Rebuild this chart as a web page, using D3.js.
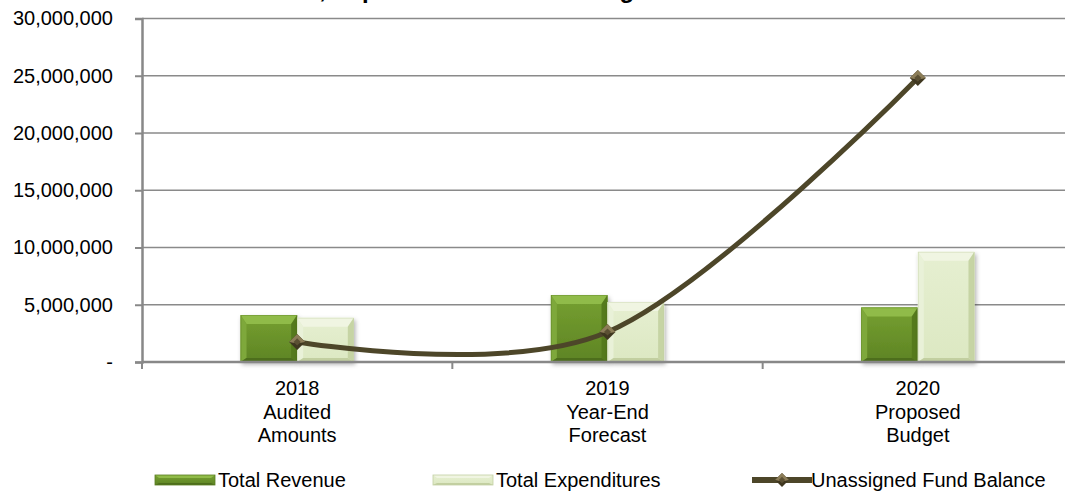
<!DOCTYPE html>
<html>
<head>
<meta charset="utf-8">
<script src="https://cdn.jsdelivr.net/npm/d3@7"></script>
<style>
  body { margin: 0; background: #fff; }
  svg { display: block; font-family: Arial, "Liberation Sans", sans-serif; }
</style>
</head>
<body>
<svg id="chart" width="1065" height="498"></svg>
<script>
// ---- data ----
const years = ["2018", "2019", "2020"];
const categoryLines = [["2018", "Audited", "Amounts"], ["2019", "Year-End", "Forecast"], ["2020", "Proposed", "Budget"]];
const totalRevenue = [4100000, 5850000, 4770000];
const totalExpenditures = [3870000, 5240000, 9630000];
const unassignedFundBalance = [1750000, 2620000, 24800000];
const yTickValues = [0, 5000000, 10000000, 15000000, 20000000, 25000000, 30000000];
const seriesNames = ["Total Revenue", "Total Expenditures", "Unassigned Fund Balance"];
const chartTitle = "Revenue, Expenditures and Unassigned Fund Balance";

// ---- layout ----
const svg = d3.select("#chart");
const plot = { left: 142, right: 1073, top: 18.5, bottom: 362 };
const fontSize = 20;

const x0 = d3.scaleBand().domain(years).range([plot.left, plot.right]).padding(0);
const groupW = x0.bandwidth() * 0.365;
const x1 = d3.scaleBand().domain(["rev", "exp"]).range([0, groupW]).padding(0);
const y = d3.scaleLinear().domain([0, 30000000]).range([plot.bottom, plot.top]);

const defs = svg.append("defs");
function vGrad(id, stops) {
  const g = defs.append("linearGradient").attr("id", id).attr("x1", 0).attr("y1", 0).attr("x2", 0).attr("y2", 1);
  stops.forEach(([o, c]) => g.append("stop").attr("offset", o).attr("stop-color", c));
}
vGrad("revBody", [[0, "#76a031"], [1, "#5e8424"]]);
vGrad("expBody", [[0, "#e6efd1"], [1, "#dce8c2"]]);

const shadow = defs.append("filter").attr("id", "barShadow").attr("x", "-20%").attr("y", "-20%").attr("width", "140%").attr("height", "140%");
shadow.append("feDropShadow").attr("dx", 1.5).attr("dy", 2.5).attr("stdDeviation", 2)
  .attr("flood-color", "#000").attr("flood-opacity", 0.3);

// title (sits mostly above the visible area)
svg.append("text").attr("x", 530).attr("y", -2).attr("text-anchor", "middle")
  .attr("font-size", 24).attr("font-weight", "bold").attr("fill", "#000").text(chartTitle);

// gridlines
svg.append("g").selectAll("line").data(yTickValues.filter(v => v > 0)).join("line")
  .attr("x1", plot.left).attr("x2", plot.right)
  .attr("y1", d => y(d)).attr("y2", d => y(d))
  .attr("stroke", "#8a8a8a").attr("stroke-width", 1.5);

// y axis
const yAxis = svg.append("g").attr("transform", `translate(${plot.left},0)`)
  .call(d3.axisLeft(y).tickValues(yTickValues)
    .tickFormat(v => v === 0 ? "-" : d3.format(",")(v))
    .tickSize(7).tickPadding(22));
yAxis.select(".domain").attr("stroke", "#888").attr("stroke-width", 2.5);
yAxis.selectAll(".tick line").attr("stroke", "#888").attr("stroke-width", 2);
yAxis.selectAll(".tick text").attr("font-size", fontSize).attr("fill", "#000")
  .attr("font-family", "Arial, 'Liberation Sans', sans-serif");

// beveled bar
const seriesStyle = {
  rev: { body: "url(#revBody)", top: "#90bb48", left: "#7ea83a", right: "#557a1f", bottom: "#4d6e1b", edge: "#5a7d22" },
  exp: { body: "url(#expBody)", top: "#f0f5e2", left: "#e9f1d8", right: "#c6d4a4", bottom: "#c2cfa0", edge: "#c2cfa4" }
};
function drawBar(g, key, x, yTop, w) {
  const h = plot.bottom - yTop;
  const s = seriesStyle[key];
  const bt = Math.min(9, h / 3), bs = Math.min(6, w / 4), bb = Math.min(4, h / 4);
  const x2 = x + w, y2 = plot.bottom;
  const bar = g.append("g").attr("filter", "url(#barShadow)");
  bar.append("rect").attr("x", x).attr("y", yTop).attr("width", w).attr("height", h).attr("fill", s.body);
  const poly = (pts, fill) => bar.append("polygon").attr("points", pts.map(p => p.join(",")).join(" ")).attr("fill", fill);
  poly([[x, yTop], [x2, yTop], [x2 - bs, yTop + bt], [x + bs, yTop + bt]], s.top);
  poly([[x, yTop], [x + bs, yTop + bt], [x + bs, y2 - bb], [x, y2]], s.left);
  poly([[x2, yTop], [x2, y2], [x2 - bs, y2 - bb], [x2 - bs, yTop + bt]], s.right);
  poly([[x, y2], [x + bs, y2 - bb], [x2 - bs, y2 - bb], [x2, y2]], s.bottom);
  bar.append("rect").attr("x", x + 0.5).attr("y", yTop + 0.5).attr("width", w - 1).attr("height", h - 1)
    .attr("fill", "none").attr("stroke", s.edge).attr("stroke-width", 0.6).attr("opacity", 0.6);
}

const barsG = svg.append("g");
years.forEach((yr, i) => {
  const gx = x0(yr) + (x0.bandwidth() - groupW) / 2;
  drawBar(barsG, "rev", gx + x1("rev"), y(totalRevenue[i]), x1.bandwidth());
  drawBar(barsG, "exp", gx + x1("exp"), y(totalExpenditures[i]), x1.bandwidth());
});

// x axis
svg.append("line").attr("x1", plot.left).attr("x2", plot.right)
  .attr("y1", plot.bottom).attr("y2", plot.bottom)
  .attr("stroke", "#888").attr("stroke-width", 2.5);
svg.append("g").selectAll("line").data(years).join("line")
  .attr("x1", d => x0(d)).attr("x2", d => x0(d))
  .attr("y1", plot.bottom).attr("y2", plot.bottom + 7)
  .attr("stroke", "#888").attr("stroke-width", 2);

const xLabels = svg.append("g").selectAll("text").data(years).join("text")
  .attr("text-anchor", "middle").attr("font-size", fontSize).attr("fill", "#000")
  .attr("transform", d => `translate(${x0(d) + x0.bandwidth() / 2},395)`);
xLabels.each(function (d, i) {
  const t = d3.select(this);
  categoryLines[i].forEach((ln, j) => t.append("tspan").attr("x", 0).attr("y", j * 23.5).text(ln));
});

// fund balance line
const cx = i => x0(years[i]) + x0.bandwidth() / 2;
const line = d3.line().x((d, i) => cx(i)).y(d => y(d)).curve(d3.curveCardinal.tension(0));
svg.append("path").datum(unassignedFundBalance).attr("d", line)
  .attr("fill", "none").attr("stroke", "#4d4629").attr("stroke-width", 5).attr("stroke-linecap", "round");

function marker(g, mx, my, r) {
  g.append("path").attr("d", `M${mx},${my - r}L${mx + r},${my}L${mx},${my + r}L${mx - r},${my}Z`)
    .attr("fill", "#3f3720");
  g.append("path").attr("d", `M${mx},${my - r}L${mx + r},${my}L${mx},${my + r * 0.2}L${mx - r},${my}Z`)
    .attr("fill", "#8c7d58");
  g.append("path").attr("d", `M${mx},${my - r * 0.45}L${mx + r * 0.45},${my}L${mx},${my + r * 0.45}L${mx - r * 0.45},${my}Z`)
    .attr("fill", "#5b5033");
}
const markG = svg.append("g");
unassignedFundBalance.forEach((v, i) => marker(markG, cx(i), y(v), 8));

// legend
const legend = svg.append("g").attr("font-size", fontSize);
const legY = 480;
function legendSwatch(key, lx) {
  const s = seriesStyle[key];
  const w = 60, h = 10, t = legY - 5;
  legend.append("rect").attr("x", lx).attr("y", t).attr("width", w).attr("height", h).attr("fill", s.body);
  legend.append("polygon").attr("points", `${lx},${t} ${lx + w},${t} ${lx + w - 4},${t + 3} ${lx + 4},${t + 3}`).attr("fill", s.top);
  legend.append("polygon").attr("points", `${lx},${t + h} ${lx + 4},${t + h - 2} ${lx + w - 4},${t + h - 2} ${lx + w},${t + h}`).attr("fill", s.bottom);
  legend.append("rect").attr("x", lx).attr("y", t).attr("width", w).attr("height", h).attr("fill", "none")
    .attr("stroke", s.edge).attr("stroke-width", 0.8);
}
legendSwatch("rev", 155);
legend.append("text").attr("x", 218).attr("y", legY + 7).text(seriesNames[0]);
legendSwatch("exp", 433);
legend.append("text").attr("x", 496).attr("y", legY + 7).text(seriesNames[1]);
legend.append("line").attr("x1", 752).attr("x2", 812).attr("y1", legY).attr("y2", legY)
  .attr("stroke", "#4d4629").attr("stroke-width", 6);
marker(legend, 782, legY, 7);
legend.append("text").attr("x", 811).attr("y", legY + 7).text(seriesNames[2]);
</script>
</body>
</html>
